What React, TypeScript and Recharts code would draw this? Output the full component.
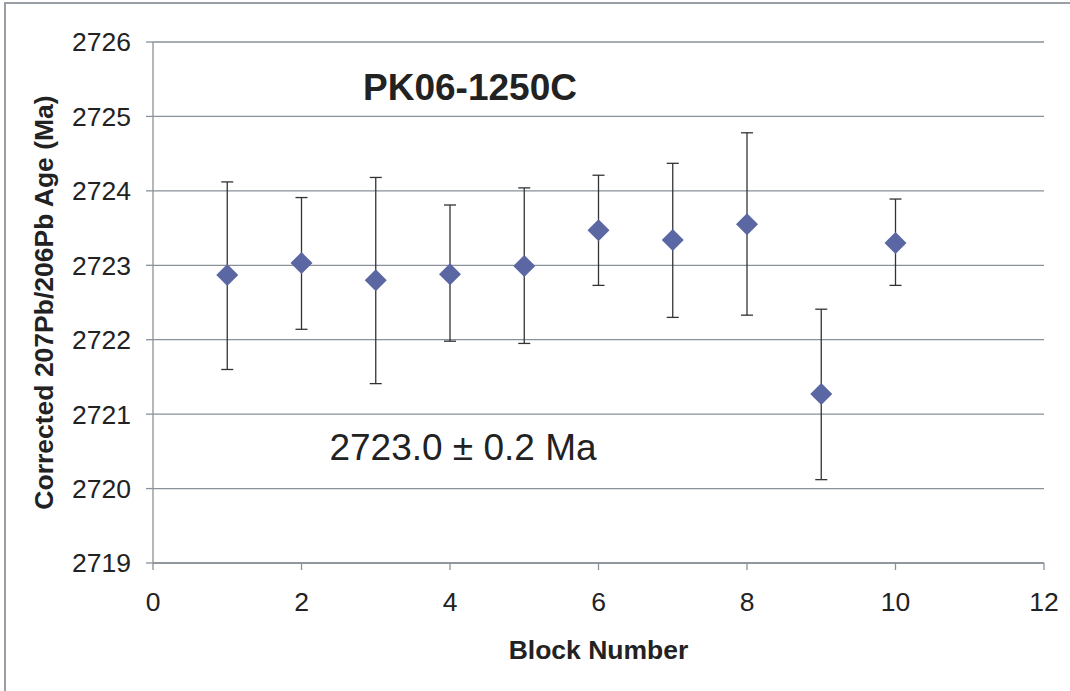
import {
  ScatterChart,
  Scatter,
  XAxis,
  YAxis,
  CartesianGrid,
  ErrorBar,
} from 'recharts'

const blocks = [1, 2, 3, 4, 5, 6, 7, 8, 9, 10]
const ages = [2722.87, 2723.03, 2722.8, 2722.88, 2722.99, 2723.47, 2723.34, 2723.55, 2721.27, 2723.3]
const upper = [2724.12, 2723.91, 2724.18, 2723.81, 2724.04, 2724.21, 2724.37, 2724.78, 2722.41, 2723.89]
const lower = [2721.6, 2722.14, 2721.41, 2721.98, 2721.95, 2722.73, 2722.3, 2722.33, 2720.12, 2722.73]

const xTicks = [0, 2, 4, 6, 8, 10, 12]
const yTicks = [2719, 2720, 2721, 2722, 2723, 2724, 2725, 2726]

const data = blocks.map((b, i) => ({
  block: b,
  age: ages[i],
  err: [ages[i] - lower[i], upper[i] - ages[i]],
}))

const GRID = '#8a9199'
const TEXT = '#222'
const FONT = '"Liberation Sans", Arial, sans-serif'

const Diamond = (props: any) => {
  const { cx, cy } = props
  const r = 11
  return (
    <path
      d={`M${cx},${cy - r}L${cx + r},${cy}L${cx},${cy + r}L${cx - r},${cy}Z`}
      fill="#5b67a3"
    />
  )
}

export default function App() {
  return (
    <div style={{ position: 'absolute', left: 0, top: 0, width: 1070, height: 691, background: '#fff', fontFamily: FONT }}>
      <div
        style={{
          position: 'absolute',
          left: 4,
          top: 2,
          right: 0,
          bottom: 0,
          borderLeft: `2px solid #9a9fa6`,
          borderTop: `2px solid #9a9fa6`,
        }}
      />
      <div style={{ position: 'absolute', left: 0, top: 0 }}>
        <ScatterChart width={1070} height={691} margin={{ top: 42, right: 26, left: 0, bottom: 0 }}>
          <CartesianGrid vertical={false} stroke={GRID} strokeWidth={1.3} />
          <XAxis
            type="number"
            dataKey="block"
            domain={[0, 12]}
            ticks={xTicks}
            allowDataOverflow
            height={128}
            stroke={GRID}
            strokeWidth={1.3}
            tickSize={7}
            tickMargin={22}
            tick={{ fill: TEXT, fontSize: 26.5, fontFamily: FONT }}
            label={{
              value: 'Block Number',
              position: 'insideTop',
              offset: 77,
              style: { fill: TEXT, fontSize: 26.5, fontWeight: 'bold', fontFamily: FONT },
            }}
          />
          <YAxis
            type="number"
            dataKey="age"
            domain={[2719, 2726]}
            ticks={yTicks}
            allowDataOverflow
            width={153}
            stroke={GRID}
            strokeWidth={1.3}
            tickSize={7}
            tickMargin={15}
            tick={{ fill: TEXT, fontSize: 26.5, fontFamily: FONT }}
            label={{
              value: 'Corrected 207Pb/206Pb Age (Ma)',
              angle: -90,
              position: 'insideLeft',
              offset: 44,
              style: { fill: TEXT, fontSize: 26.5, fontWeight: 'bold', fontFamily: FONT, textAnchor: 'middle' },
            }}
          />
          <Scatter data={data} shape={Diamond} isAnimationActive={false}>
            <ErrorBar dataKey="err" direction="y" width={6} stroke="#333" strokeWidth={1.3} />
          </Scatter>
        </ScatterChart>
      </div>
      <svg width={1070} height={691} style={{ position: 'absolute', left: 0, top: 0, pointerEvents: 'none' }}>
        <text x={470} y={100} textAnchor="middle" fontSize={37} fontWeight="bold" fill={TEXT} fontFamily={FONT}>
          PK06-1250C
        </text>
        <text x={463} y={460} textAnchor="middle" fontSize={37} fill={TEXT} fontFamily={FONT}>
          2723.0 ± 0.2 Ma
        </text>
      </svg>
    </div>
  )
}
